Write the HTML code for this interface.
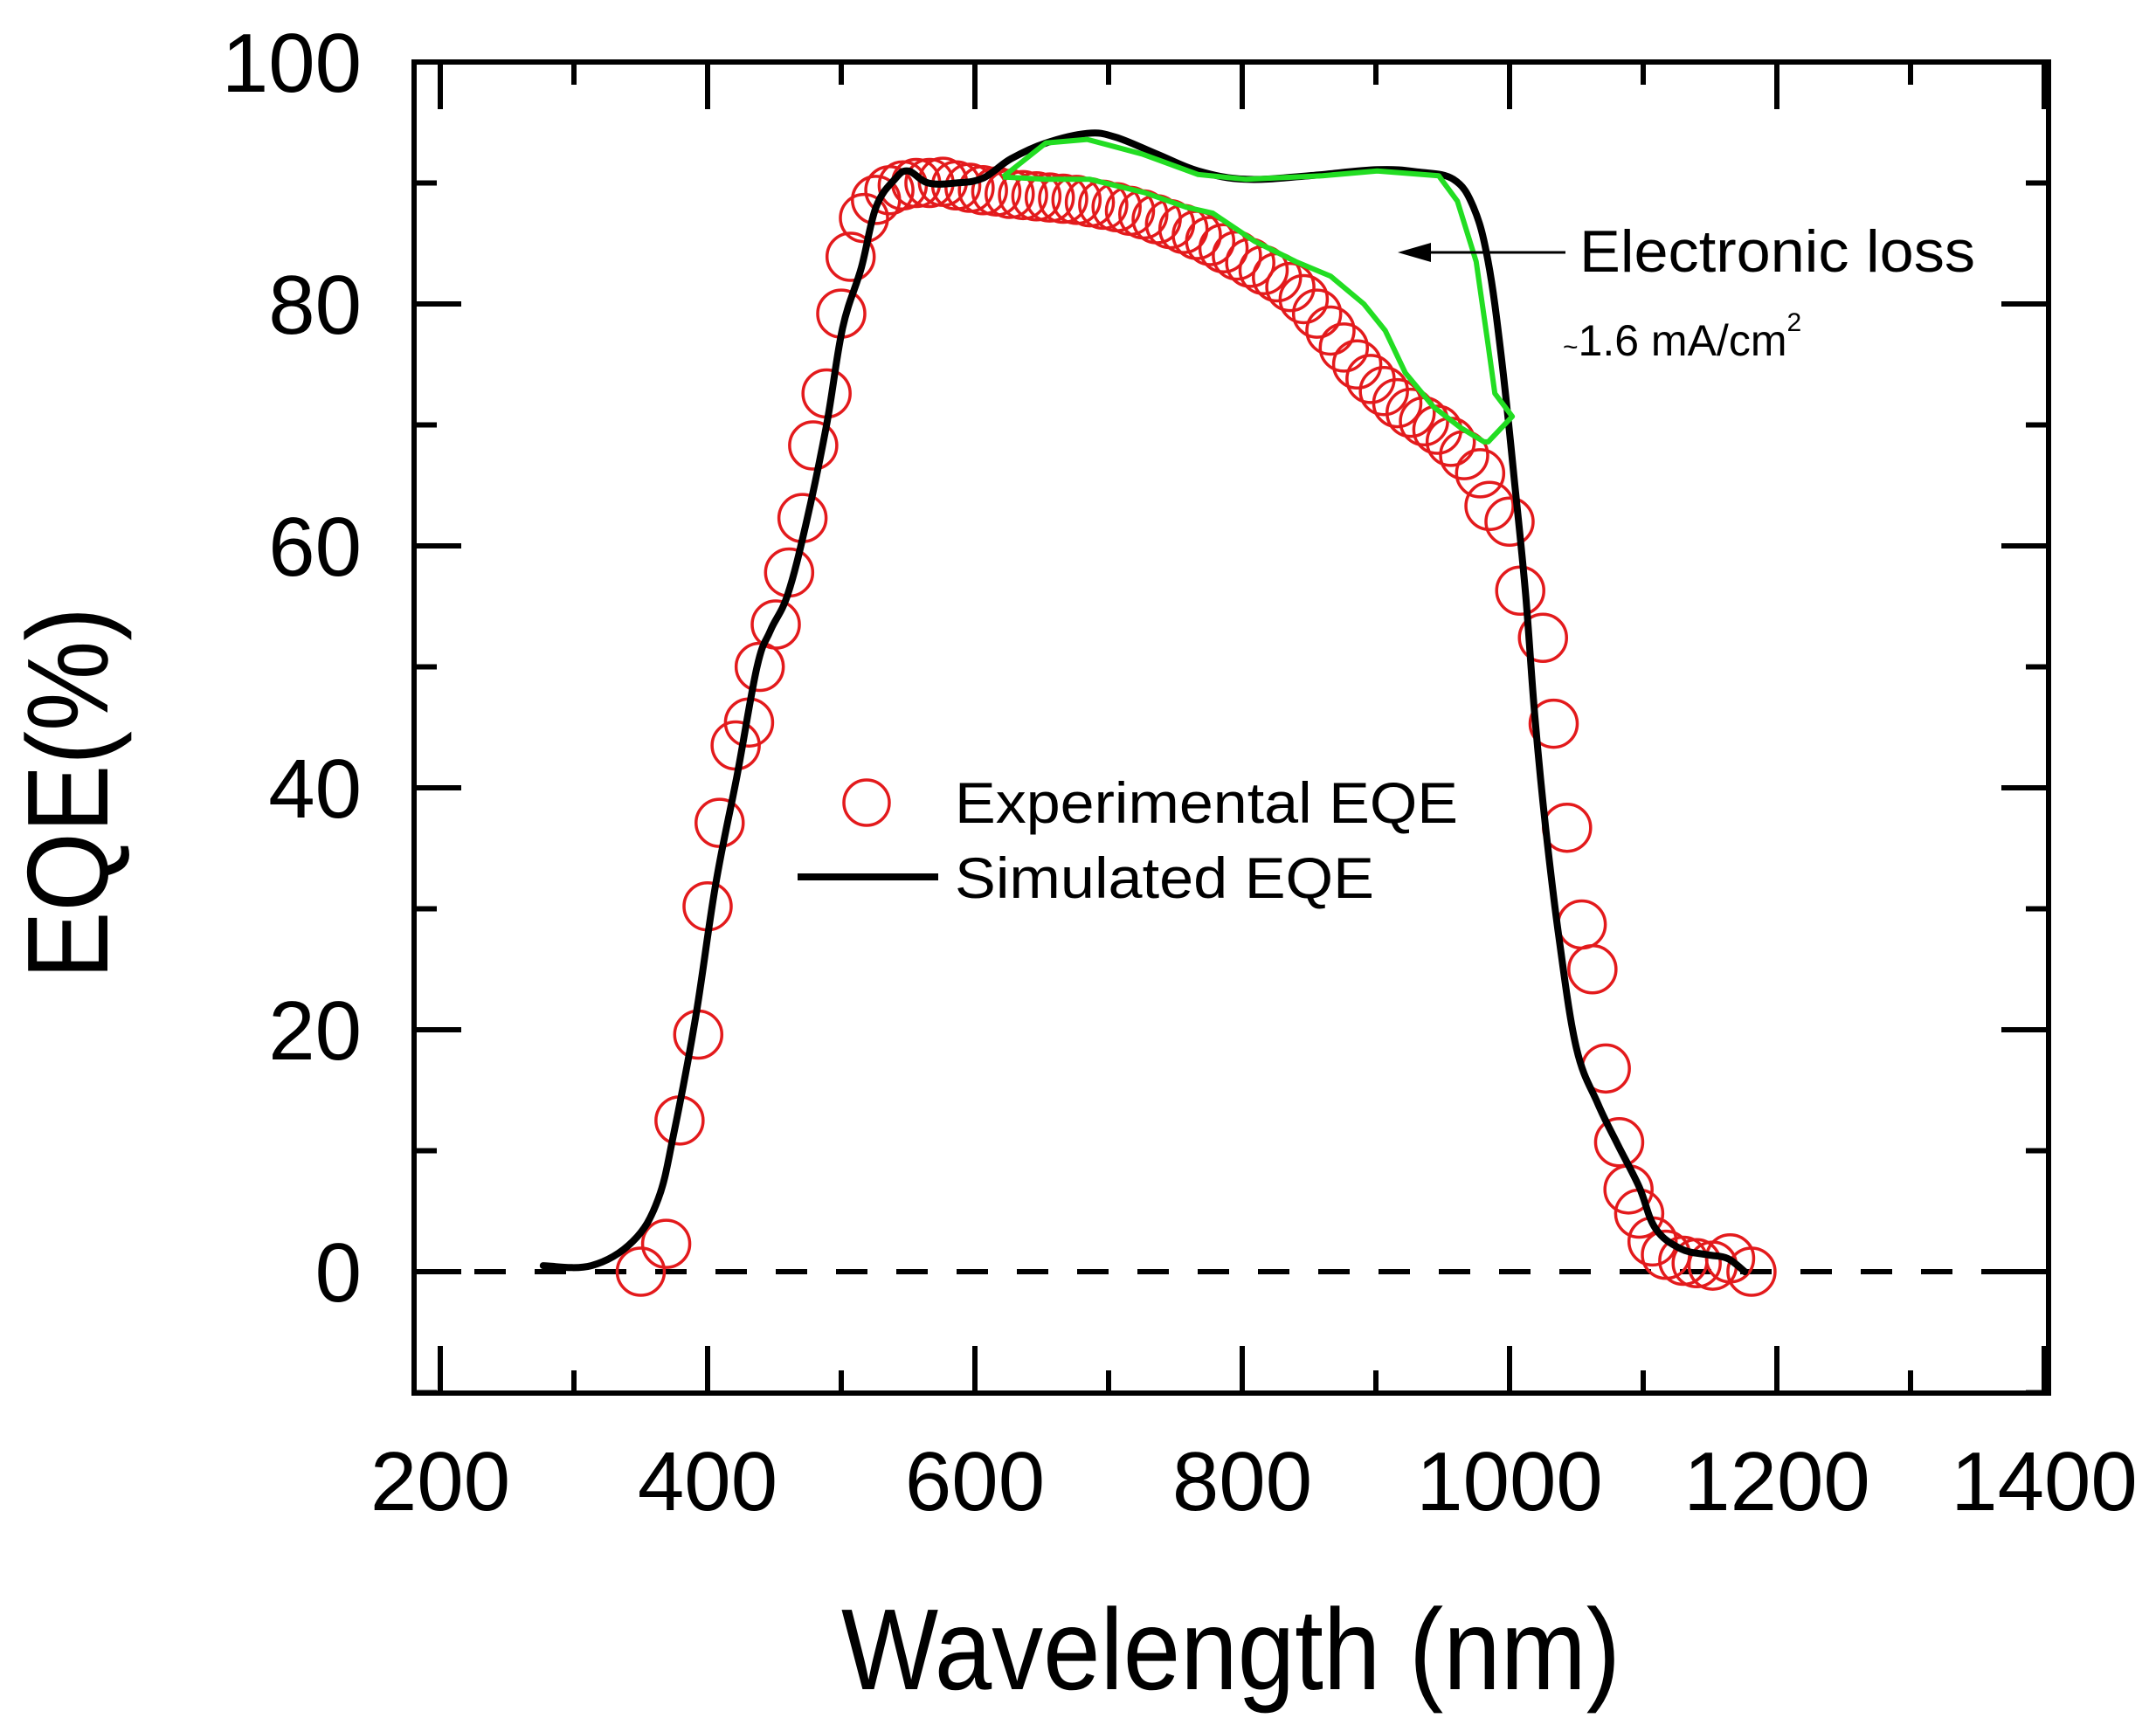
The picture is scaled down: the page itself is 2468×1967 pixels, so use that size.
<!DOCTYPE html>
<html><head><meta charset="utf-8"><style>
html,body{margin:0;padding:0;background:#fff;}
svg{display:block;font-family:"Liberation Sans",Arial,sans-serif;}
</style></head><body>
<svg id="chart" width="2468" height="1967" viewBox="0 0 2468 1967" xmlns="http://www.w3.org/2000/svg">
<g id="plot"></g>
<text x="963" y="1934" font-size="132" textLength="892" lengthAdjust="spacingAndGlyphs">Wavelength (nm)</text>
<text font-size="132" text-anchor="middle" textLength="426" lengthAdjust="spacingAndGlyphs" transform="translate(123 908) rotate(-90)">EQE(%)</text>
<g>
<circle cx="992" cy="919" r="26" fill="none" stroke="#e31a1c" stroke-width="3.5"/>
<text x="1093" y="942" font-size="66" textLength="576" lengthAdjust="spacingAndGlyphs">Experimental EQE</text>
<line x1="913" y1="1004" x2="1074" y2="1004" stroke="#000" stroke-width="8"/>
<text x="1093" y="1028" font-size="66" textLength="480" lengthAdjust="spacingAndGlyphs">Simulated EQE</text>
</g>
<g>
<line x1="1792" y1="289" x2="1625" y2="289" stroke="#000" stroke-width="3"/>
<polygon points="1600,289 1638,278 1638,300" fill="#000"/>
<text x="1808" y="311" font-size="68" textLength="453" lengthAdjust="spacingAndGlyphs">Electronic loss</text>
<text x="1789" y="407" font-size="50"><tspan font-size="30">~</tspan>1.6 mA/cm<tspan font-size="30" dy="-28">2</tspan></text>
</g>
</svg>
<script>
const xTicks=[200,400,600,800,1000,1200,1400];
const yTicks=[0,20,40,60,80,100];
const expX=[350,369,379,393,400,409,421,431,439,451,461,471,479,489,500,507,517,526,536,546,556,566,576,586,596,606,616,626,636,646,656,666,676,686,696,706,716,726,736,746,756,766,776,786,796,806,816,826,836,846,856,866,876,886,896,906,916,926,936,946,956,966,978,985,1000,1008,1025,1033,1043,1054,1062,1072,1082,1089,1097,1107,1117,1130,1140,1152,1165,1181];
const expY=[0,2.3,12.5,19.6,30.2,37.1,43.5,45.4,50,53.5,57.8,62.3,68.3,72.6,79.2,83.9,87.1,88.6,89.4,89.8,90,90,90.1,89.8,89.6,89.4,89.3,89.1,89,88.9,88.8,88.7,88.6,88.4,88.2,88,87.7,87.4,87,86.6,86.2,85.7,85.2,84.6,84,83.4,82.8,82.2,81.4,80.4,79.2,77.8,76.4,75,73.8,72.8,71.8,71,70.3,69.6,68.6,67.5,66,63.3,62,56.3,52.4,45.3,36.7,28.7,25,16.8,10.7,6.8,4.8,2.5,1.4,0.9,0.7,0.5,1.1,0];
const simX=[277,313,344,363,375,391,406,422,437,447,460,474,489,501,515,526,540,550,565,586,606,627,653,684,705,736,767,803,850,901,932,958,973,984,994,1004,1012,1019,1027,1037,1050,1066,1081,1097,1109,1128,1148,1163,1176];
const simY=[0.5,0.5,2.5,6,11.6,21,32,41,50,53,56,62,70,78,83,88,90.3,91,90,90,90.4,92,93.3,94.1,93.8,92.4,91,90.3,90.6,91.1,90.9,90.3,88,83.5,75.5,65,56,45.8,36.7,27.6,18.5,13.9,10.5,7,3.6,1.9,1.4,1.1,0];
const lossX=[621,653,684,725,767,803,860,901,947,961,975,984,989,1002,984,981,963,943,922,907,891,866,840,809,778,758,727,686,653,621];
const lossY=[90.5,93.3,93.6,92.4,90.7,90.3,90.6,91,90.6,88.5,83.5,76.6,72.6,70.7,68.6,68.6,69.8,71.5,74.3,77.8,80,82.3,83.5,85.2,87.5,88,89.2,90.3,90.3,90.5];

const X0=474,X1=2345,Y0=71,Y1=1595;
const sx=v=>504+(v-200)*1.53;
const sy=v=>1456-v*13.85;
const NS='http://www.w3.org/2000/svg';
const g=document.getElementById('plot');
function mk(t,a){const e=document.createElementNS(NS,t);for(const k in a)e.setAttribute(k,a[k]);g.appendChild(e);return e;}

let z=mk('line',{x1:X0,y1:sy(0),x2:X1,y2:sy(0),stroke:'#000','stroke-width':6,'stroke-dasharray':'36 33'});



expX.forEach((x,i)=>{
 const c=mk('circle',{cx:sx(x),cy:sy(expY[i]),r:27,fill:'none',stroke:'#e31a1c','stroke-width':3.5});
 
 
});
function smooth(xs,ys,closed){
 const P=xs.map((x,i)=>[sx(x),sy(ys[i])]);
 let d='M'+P[0][0].toFixed(1)+' '+P[0][1].toFixed(1);
 for(let i=0;i<P.length-1;i++){
  const p0=P[Math.max(0,i-1)],p1=P[i],p2=P[i+1],p3=P[Math.min(P.length-1,i+2)];
  const t=0.18;
  const c1=[p1[0]+(p2[0]-p0[0])*t,p1[1]+(p2[1]-p0[1])*t];
  const c2=[p2[0]-(p3[0]-p1[0])*t,p2[1]-(p3[1]-p1[1])*t];
  d+=' C'+c1[0].toFixed(1)+' '+c1[1].toFixed(1)+' '+c2[0].toFixed(1)+' '+c2[1].toFixed(1)+' '+p2[0].toFixed(1)+' '+p2[1].toFixed(1);
 }
 return d;
}
const sp=mk('path',{d:smooth(simX,simY),fill:'none',stroke:'#000','stroke-width':8,'stroke-linejoin':'round','stroke-linecap':'round'});


const lp=mk('path',{d:lossX.map((x,i)=>(i?'L':'M')+sx(x).toFixed(1)+' '+sy(lossY[i]).toFixed(1)).join(' '),fill:'none',stroke:'#22dd22','stroke-width':6,'stroke-linejoin':'round'});



const fr=mk('rect',{x:X0,y:Y0,width:X1-X0,height:Y1-Y0,fill:'none',stroke:'#000','stroke-width':6});



for(let v=200;v<=1400;v+=100){
 const L=(v%200===0)?54:26;
 const t1=mk('line',{x1:sx(v),y1:Y1,x2:sx(v),y2:Y1-L,stroke:'#000','stroke-width':6});
 
 
 const t2=mk('line',{x1:sx(v),y1:Y0,x2:sx(v),y2:Y0+L,stroke:'#000','stroke-width':6});
 
 
}
for(let v=-10;v<=100;v+=10){
 const L=(v%20===0)?54:26;
 const t1=mk('line',{x1:X0,y1:sy(v),x2:X0+L,y2:sy(v),stroke:'#000','stroke-width':6});
 
 
 const t2=mk('line',{x1:X1,y1:sy(v),x2:X1-L,y2:sy(v),stroke:'#000','stroke-width':6});
 
 
}
xTicks.forEach(v=>{
 const t=mk('text',{x:sx(v),y:1729,'font-size':96,'text-anchor':'middle'});
 t.textContent=v;
 
 
});
yTicks.forEach(v=>{
 const t=mk('text',{x:414,y:sy(v)+34,'font-size':96,'text-anchor':'end'});
 t.textContent=v;
 
 
});
</script>
</body></html>
